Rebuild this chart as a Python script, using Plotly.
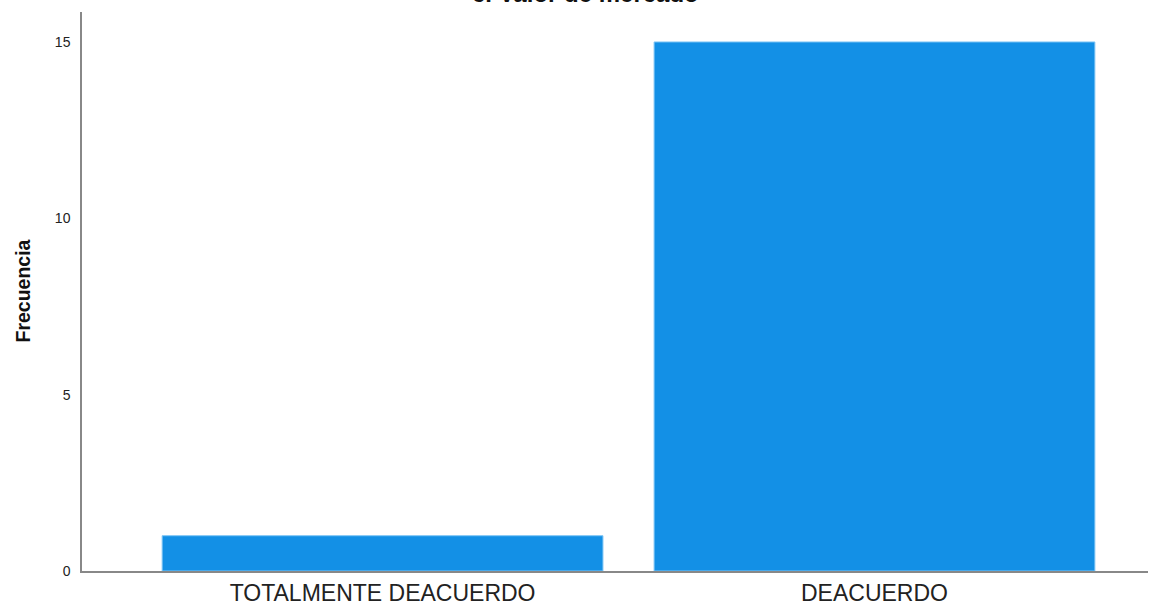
import plotly.graph_objects as go

categories = ["TOTALMENTE DEACUERDO", "DEACUERDO"]
frecuencia = [1, 15]
y_ticks = [0, 5, 10, 15]
title_text = "c. Valor de mercado"
y_title = "Frecuencia"

fig = go.Figure()
fig.add_trace(go.Bar(
    x=[0, 1], y=frecuencia, width=0.896,
    marker=dict(color="#1390E6", line=dict(color="#7cc4f5", width=1)),
))

fig.update_layout(
    width=1162, height=606,
    margin=dict(l=82, r=14, t=12, b=35, autoexpand=False),
    paper_bgcolor="white", plot_bgcolor="white",
    showlegend=False,
    font=dict(family="Arial, Liberation Sans, sans-serif", color="#222"),
)
fig.update_xaxes(
    range=[-0.611, 1.556], tickvals=[0, 1], ticktext=categories,
    showline=True, linecolor="#888", linewidth=1.5, showgrid=False,
    ticks="outside", ticklen=1, tickcolor="rgba(0,0,0,0)",
    tickfont=dict(size=23, color="#222"), zeroline=False, automargin=False,
)
fig.update_yaxes(
    range=[0, 15.85], tickvals=y_ticks, showline=True, linecolor="#888",
    linewidth=1.5, showgrid=False, ticks="outside", ticklen=7, tickcolor="rgba(0,0,0,0)",
    tickfont=dict(size=14, color="#222"), zeroline=False, automargin=False,
)
fig.add_annotation(
    text="<b>" + y_title + "</b>", xref="paper", yref="paper", x=0, y=0.5,
    xanchor="center", yanchor="middle", xshift=-60, textangle=-90, showarrow=False,
    font=dict(size=19.5, color="#111"),
)
fig.add_annotation(
    text="<b>" + title_text + "</b>", xref="paper", yref="paper", x=0.472, y=1,
    xanchor="center", yanchor="middle", yshift=19, showarrow=False,
    font=dict(size=24, color="#111"),
)
fig.write_html("out.html", config={"displayModeBar": False},
               post_script="document.body.style.margin='0';")
